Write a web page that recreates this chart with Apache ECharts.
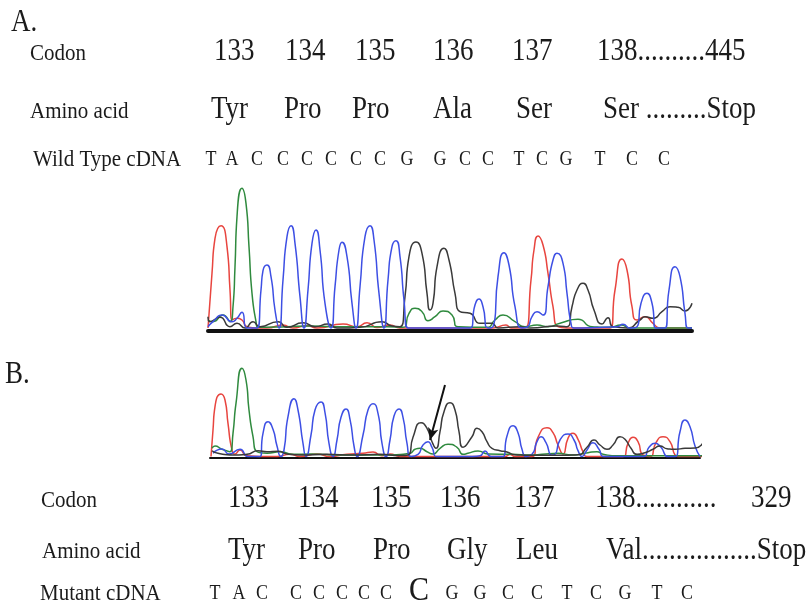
<!DOCTYPE html>
<html>
<head>
<meta charset="utf-8">
<script src="https://cdn.jsdelivr.net/npm/echarts@6/dist/echarts.min.js"></script>
<style>
html, body { margin: 0; padding: 0; background: #fff; }
#chart { width: 808px; height: 605px; }
</style>
</head>
<body>
<div id="chart"></div>
<script>
// ---- Sequence annotation text ----
const codonsA = ['133', '134', '135', '136', '137', '138..........445'];
const aminoA = ['Tyr', 'Pro', 'Pro', 'Ala', 'Ser', 'Ser .........Stop'];
const wildSeq = ['T','A','C','C','C','C','C','C','G','G','C','C','T','C','G','T','C','C'];

const codonsB = ['133', '134', '135', '136', '137', '138............', '329'];
const aminoB = ['Tyr', 'Pro', 'Pro', 'Gly', 'Leu', 'Val.................Stop'];
const mutantSeq = ['T','A','C','C','C','C','C','C','C','G','G','C','C','T','C','G','T','C'];
const insertedBase = 8; // index of the inserted C in the mutant read

// ---- Chromatogram traces: [scan, signal] ----
// A. wild type
const redA = [[0,0],[4,547],[7,897],[13,1023],[19,813],[22,380],[24,80],[29,97],[34,80],[39,13],[49,0],[59,0],[75,30],[85,0],[99,23],[109,0],[135,40],[149,13],[159,53],[169,5],[182,30],[192,0],[285,0],[298,30],[303,0],[317,0],[323,480],[326,780],[330,920],[335,830],[340,547],[345,213],[350,13],[359,0],[402,0],[407,380],[414,690],[419,580],[424,213],[429,80],[437,113],[445,47],[452,0],[484,0]];
const greenA = [[0,80],[5,63],[15,130],[22,63],[25,213],[27,613],[29,1113],[34,1397],[38,1247],[41,813],[44,347],[48,63],[50,7],[79,13],[102,20],[125,13],[152,13],[179,13],[195,7],[201,147],[207,197],[214,163],[220,73],[227,113],[235,170],[244,130],[250,13],[279,7],[287,80],[295,130],[307,63],[317,13],[329,30],[340,13],[352,47],[370,87],[384,13],[402,7],[413,30],[422,0],[484,0]];
const blueA = [[0,13],[5,63],[14,130],[24,63],[29,97],[34,157],[39,0],[49,0],[53,380],[55,573],[59,630],[63,513],[67,180],[71,0],[75,480],[79,913],[83,1023],[87,847],[92,313],[96,0],[100,380],[104,847],[108,980],[112,780],[117,247],[123,0],[127,413],[131,780],[134,857],[139,713],[144,247],[148,0],[152,413],[157,913],[162,1023],[166,880],[171,347],[176,0],[180,480],[184,813],[188,873],[192,713],[196,280],[200,0],[262,0],[267,230],[271,290],[275,213],[280,0],[285,13],[290,513],[296,753],[301,630],[307,213],[314,0],[319,7],[324,113],[329,163],[335,130],[340,413],[345,680],[349,747],[355,647],[359,347],[363,47],[366,0],[409,13],[415,37],[422,0],[429,13],[433,247],[439,347],[444,247],[448,0],[457,0],[461,380],[467,613],[472,513],[477,147],[480,0],[484,0]];
const blackA = [[0,113],[2,63],[12,107],[22,13],[29,47],[37,0],[45,63],[52,13],[70,63],[79,7],[95,53],[107,13],[120,40],[129,0],[152,7],[174,63],[184,20],[192,13],[197,313],[201,713],[208,860],[214,747],[219,347],[222,180],[225,247],[229,613],[236,797],[241,680],[247,347],[252,163],[262,147],[272,47],[284,47],[290,0],[312,13],[322,0],[349,20],[359,13],[364,213],[369,380],[375,447],[380,380],[386,180],[394,40],[400,103],[405,13],[419,0],[432,80],[437,113],[445,97],[454,163],[462,213],[470,207],[477,170],[484,247]];

// B. mutant
const redB = [[1,0],[3,265],[5,498],[11,625],[15,565],[18,332],[22,65],[25,25],[30,65],[37,7],[67,0],[80,23],[90,0],[107,25],[120,0],[137,23],[153,32],[163,45],[172,7],[180,25],[190,0],[295,0],[300,20],[305,0],[322,0],[328,192],[337,288],[343,238],[348,115],[353,25],[358,182],[363,232],[368,172],[373,48],[377,0],[413,0],[418,132],[423,192],[428,148],[433,15],[440,0],[446,138],[453,198],[460,148],[465,15],[468,0],[492,0]];
const greenB = [[2,82],[5,105],[12,72],[20,48],[23,232],[26,532],[32,882],[36,765],[39,465],[43,198],[47,48],[57,32],[70,48],[83,22],[100,25],[130,15],[177,15],[200,32],[205,72],[210,82],[217,48],[223,25],[230,82],[238,122],[247,92],[253,22],[258,32],[268,55],[278,25],[302,22],[322,15],[332,22],[348,32],[362,15],[378,38],[387,48],[393,22],[408,7],[435,7],[468,7],[492,7]];
const blueB = [[3,32],[12,75],[19,25],[30,72],[38,0],[50,0],[53,232],[58,348],[63,272],[67,105],[71,0],[74,65],[78,398],[84,578],[88,465],[93,132],[96,0],[101,215],[105,465],[111,545],[115,438],[119,132],[123,0],[127,165],[131,392],[136,475],[140,372],[144,105],[147,0],[153,215],[158,465],[163,528],[168,432],[172,132],[176,0],[180,165],[184,405],[189,475],[193,392],[197,132],[201,0],[208,22],[213,115],[218,148],[222,92],[227,0],[257,0],[270,7],[275,55],[281,0],[293,0],[297,205],[303,308],[308,238],[312,72],[316,0],[322,22],[327,148],[331,198],[336,138],[342,15],[345,22],[350,165],[358,225],[364,165],[368,58],[372,0],[377,65],[383,138],[389,72],[394,0],[433,0],[439,92],[445,132],[451,92],[458,0],[465,0],[470,248],[475,365],[480,298],[485,105],[490,0]];
const blackB = [[2,58],[8,32],[23,15],[37,22],[48,58],[57,48],[68,52],[77,25],[90,15],[117,22],[143,15],[170,22],[190,10],[198,15],[203,192],[211,338],[217,282],[222,148],[226,82],[230,248],[234,448],[240,538],[245,465],[249,248],[253,92],[262,198],[267,282],[272,248],[277,148],[282,82],[290,58],[297,45],[305,18],[322,12],[345,12],[368,18],[377,92],[384,165],[390,115],[397,72],[403,115],[410,198],[415,172],[421,82],[427,22],[435,38],[443,72],[450,105],[457,78],[465,72],[475,82],[485,85],[493,138]];

// Arrow marking the inserted base in the mutant read
const mutationArrow = [[235, 715], [220, 165]];

// ---- Layout ----
const SERIF = '"Liberation Serif", "Times New Roman", serif';
const INK = '#1b1b1b';
const COLORS = { red: '#e8453f', green: '#2f8a3e', blue: '#3d4fe4', black: '#3a3a3a' };
const TEXT_STRETCH = 1.14; // glyphs are set slightly taller than wide

const codonAX = [214, 285, 355, 433, 512, 597];
const aminoAX = [211, 284, 352, 433, 516, 603];
const wildX = [211, 232, 257, 283, 307, 331, 356, 380, 407, 440, 465, 488, 519, 542, 566, 600, 632, 664];
const codonBX = [228, 298, 371, 440, 514, 595, 751];
const aminoBX = [228, 298, 373, 447, 516, 606];
const mutantX = [215, 239, 262, 296, 319, 342, 364, 386, 419, 452, 480, 508, 537, 567, 596, 625, 657, 687];

function txt(str, x, y, size, align) {
  return {
    type: 'text', x: x, y: y, scaleY: TEXT_STRETCH, silent: true,
    style: {
      text: str, font: size + 'px ' + SERIF, fill: INK,
      align: align || 'left', verticalAlign: 'middle',
      textAlign: align || 'left', textVerticalAlign: 'middle'
    }
  };
}

const graphics = [];
graphics.push(txt('A.', 11, 23, 27));
graphics.push(txt('B.', 5, 375, 27));

graphics.push(txt('Codon', 30, 54, 21));
graphics.push(txt('Amino acid', 30, 112, 21));
graphics.push(txt('Wild Type cDNA', 33, 160, 21));
codonsA.forEach((s, i) => graphics.push(txt(s, codonAX[i], 52, 27)));
aminoA.forEach((s, i) => graphics.push(txt(s, aminoAX[i], 110, 27)));
wildSeq.forEach((s, i) => graphics.push(txt(s, wildX[i], 160, 18, 'center')));

graphics.push(txt('Codon', 41, 501, 21));
graphics.push(txt('Amino acid', 42, 552, 21));
graphics.push(txt('Mutant cDNA', 40, 594, 21));
codonsB.forEach((s, i) => graphics.push(txt(s, codonBX[i], 499, 27)));
aminoB.forEach((s, i) => graphics.push(txt(s, aminoBX[i], 551, 27)));
mutantSeq.forEach((s, i) => graphics.push(
  txt(s, mutantX[i], i === insertedBase ? 591 : 594, i === insertedBase ? 30 : 18, 'center')));

function trace(data, color, grid) {
  return {
    type: 'line', data: data, xAxisIndex: grid, yAxisIndex: grid,
    smooth: 0.6, symbol: 'none', showSymbol: false, silent: true, clip: false,
    lineStyle: { color: color, width: 1.5 }, animation: false
  };
}

function hiddenY(grid, min, max) {
  return { type: 'value', gridIndex: grid, min: min, max: max, show: false, splitLine: { show: false } };
}
function baseX(grid, max, width) {
  return {
    type: 'value', gridIndex: grid, min: 0, max: max,
    axisLine: { show: true, onZero: false, lineStyle: { color: '#111', width: width } },
    axisTick: { show: false }, axisLabel: { show: false }, splitLine: { show: false }
  };
}

const series = [
  trace(redA, COLORS.red, 0), trace(greenA, COLORS.green, 0),
  trace(blackA, COLORS.black, 0), trace(blueA, COLORS.blue, 0),
  trace(redB, COLORS.red, 1), trace(greenB, COLORS.green, 1),
  trace(blueB, COLORS.blue, 1), trace(blackB, COLORS.black, 1)
];
series[7].markLine = {
  silent: true, animation: false,
  symbol: ['none', 'arrow'], symbolSize: [8, 12],
  label: { show: false },
  lineStyle: { color: '#111', width: 2, type: 'solid' },
  data: [[{ coord: mutationArrow[0] }, { coord: mutationArrow[1] }]]
};

const chart = echarts.init(document.getElementById('chart'), null, { renderer: 'canvas' });
chart.setOption({
  backgroundColor: '#ffffff',
  animation: false,
  grid: [
    { left: 208, width: 484, top: 178, height: 153 },
    { left: 210, width: 490, top: 356.5, height: 101 }
  ],
  xAxis: [baseX(0, 484, 4), baseX(1, 490, 2)],
  yAxis: [hiddenY(0, -30, 1500), hiddenY(1, -10, 1000)],
  series: series,
  graphic: graphics
});
</script>
</body>
</html>
